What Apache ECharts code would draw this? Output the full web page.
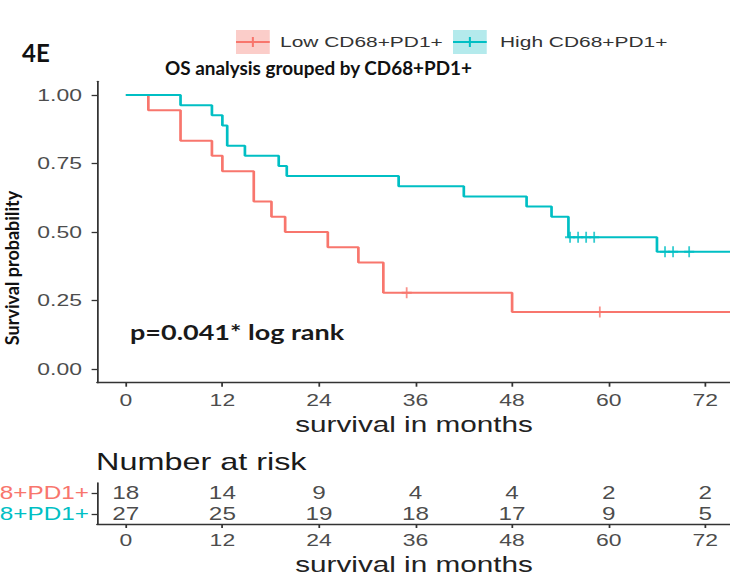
<!DOCTYPE html>
<html>
<head>
<meta charset="utf-8">
<script src="https://cdn.jsdelivr.net/npm/echarts@6/dist/echarts.min.js"></script>
<style>
  html, body { margin: 0; padding: 0; background: #fff; overflow: hidden; width: 730px; height: 576px; }
  #chart { width: 540.74px; height: 576px; transform: scaleX(1.35); transform-origin: 0 0; }
</style>
</head>
<body>
<div id="chart"></div>
<script>
// The exported figure is stretched horizontally; the whole chart is drawn
// narrower and widened by this factor.
const SX = 1.35;
const W = 730 / SX;
const H = 576;
const px = v => v / SX;   // page x -> chart x

// ---- data -------------------------------------------------------------
const groupNames = ['Low CD68+PD1+', 'High CD68+PD1+'];
const groupColors = ['#F8766D', '#00BFC4'];

// Kaplan-Meier steps: event time (months) and survival after that time
const lowTimes = [0, 2.8, 6.8, 10.7, 12.0, 15.9, 18.1, 19.8, 25.1, 28.9, 32.0, 48.0];
const lowSurv  = [1.000, 0.944, 0.833, 0.778, 0.722, 0.611, 0.556, 0.500, 0.444, 0.389, 0.278, 0.208];
const lowCensor = [34.9, 58.9];

const highTimes = [0, 6.8, 10.7, 12.0, 12.6, 14.8, 19.0, 20.0, 33.9, 42.0, 49.8, 52.9, 55.0, 66.0];
const highSurv  = [1.000, 0.963, 0.926, 0.889, 0.815, 0.778, 0.741, 0.704, 0.667, 0.630, 0.593, 0.556, 0.481, 0.428];
const highCensor = [55.2, 56.2, 57.2, 58.2, 67.0, 68.0, 70.0];

const followUpEnd = 75.2;

// Number at risk table
const riskTimes = [0, 12, 24, 36, 48, 60, 72];
const lowRisk  = [18, 14, 9, 4, 4, 2, 2];
const highRisk = [27, 25, 19, 18, 17, 9, 5];

const xTicks = [0, 12, 24, 36, 48, 60, 72];
const yTicks = [0, 0.25, 0.5, 0.75, 1];

// ---- helpers ----------------------------------------------------------
function stepData(times, surv) {
  const d = times.map((t, i) => [t, surv[i]]);
  d.push([followUpEnd, surv[surv.length - 1]]);
  return d;
}
function survivalAt(times, surv, t) {
  let s = surv[0];
  for (let i = 0; i < times.length; i++) if (times[i] <= t) s = surv[i];
  return s;
}
const plusSymbol = 'path://M5,0L5,10M0,5L10,5';

const FONT = "'Liberation Sans', Arial, sans-serif";
const axisLine = { show: true, onZero: false, lineStyle: { color: '#333', width: 1.3 } };
const axisTick = { show: true, length: 4, lineStyle: { color: '#333', width: 1.3 } };

const chart = echarts.init(document.getElementById('chart'), null, { renderer: 'svg', width: W, height: H });

const gridLeft = px(97);
const gridRight = W - px(731);

const option = {
  animation: false,
  backgroundColor: '#fff',
  grid: [
    { left: gridLeft, right: gridRight, top: 81.3, height: 301.4, outerBoundsMode: 'none', containLabel: false },
    { left: gridLeft, right: gridRight, top: 483, height: 41, outerBoundsMode: 'none', containLabel: false }
  ],
  xAxis: [
    {
      type: 'value', gridIndex: 0, min: -3.58, max: 75.2,
      axisLine, axisTick: Object.assign({ customValues: xTicks }, axisTick),
      splitLine: { show: false },
      axisLabel: { customValues: xTicks, fontSize: 17, color: '#4d4d4d', fontFamily: FONT, margin: 9 },
      name: 'survival in months', nameLocation: 'middle', nameGap: 28,
      nameTextStyle: { fontSize: 22, color: '#222', fontFamily: FONT }
    },
    {
      type: 'value', gridIndex: 1, min: -3.58, max: 75.2,
      axisLine, axisTick: Object.assign({ customValues: xTicks }, axisTick),
      splitLine: { show: false },
      axisLabel: { customValues: xTicks, fontSize: 17, color: '#4d4d4d', fontFamily: FONT, margin: 8 },
      name: 'survival in months', nameLocation: 'middle', nameGap: 29,
      nameTextStyle: { fontSize: 22, color: '#222', fontFamily: FONT }
    }
  ],
  yAxis: [
    {
      type: 'value', gridIndex: 0, min: -0.05, max: 1.05,
      axisLine, axisTick: Object.assign({ customValues: yTicks }, axisTick),
      splitLine: { show: false },
      axisLabel: {
        customValues: yTicks, fontSize: 17, color: '#4d4d4d', fontFamily: FONT, margin: px(15),
        formatter: v => v.toFixed(2)
      }
    },
    {
      type: 'category', gridIndex: 1, data: [groupNames[1], groupNames[0]],
      axisLine, axisTick: Object.assign({ alignWithLabel: true }, axisTick),
      splitLine: { show: false },
      axisLabel: {
        fontSize: 18, fontFamily: FONT, margin: px(8), interval: 0, hideOverlap: false,
        color: (v) => v === groupNames[0] ? groupColors[0] : groupColors[1]
      }
    }
  ],
  series: [
    {
      name: groupNames[0], type: 'line', step: 'end', xAxisIndex: 0, yAxisIndex: 0,
      data: stepData(lowTimes, lowSurv), symbol: 'none', silent: true,
      lineStyle: { color: groupColors[0], width: 2 }
    },
    {
      name: groupNames[1], type: 'line', step: 'end', xAxisIndex: 0, yAxisIndex: 0,
      data: stepData(highTimes, highSurv), symbol: 'none', silent: true,
      lineStyle: { color: groupColors[1], width: 2 }
    },
    {
      type: 'scatter', xAxisIndex: 0, yAxisIndex: 0, silent: true,
      data: lowCensor.map(t => [t, survivalAt(lowTimes, lowSurv, t)]),
      symbol: plusSymbol, symbolSize: [7.5, 11],
      itemStyle: { color: 'rgba(0,0,0,0)', borderColor: groupColors[0], borderWidth: 1.6 }
    },
    {
      type: 'scatter', xAxisIndex: 0, yAxisIndex: 0, silent: true,
      data: highCensor.map(t => [t, survivalAt(highTimes, highSurv, t)]),
      symbol: plusSymbol, symbolSize: [7.5, 11],
      itemStyle: { color: 'rgba(0,0,0,0)', borderColor: groupColors[1], borderWidth: 1.6 }
    },
    {
      type: 'scatter', xAxisIndex: 1, yAxisIndex: 1, silent: true,
      data: riskTimes.map((t, i) => [t, 1, lowRisk[i]])
        .concat(riskTimes.map((t, i) => [t, 0, highRisk[i]])),
      symbolSize: 0,
      label: {
        show: true, position: 'inside', formatter: p => String(p.value[2]),
        fontSize: 18, color: '#1a1a1a', fontFamily: FONT
      }
    }
  ],
  graphic: [
    // panel tag and title
    { type: 'text', x: px(22), y: 53, scaleX: 1 / SX,
      style: { text: '4E', font: "bold 24px Lato, 'Open Sans', sans-serif", fill: '#111', verticalAlign: 'middle' } },
    { type: 'text', x: px(165), y: 68, scaleX: 1.05 / SX,
      style: { text: 'OS analysis grouped by CD68+PD1+', font: "bold 18px Lato, 'Open Sans', sans-serif", fill: '#111', verticalAlign: 'middle' } },
    // y axis title
    { type: 'text', x: px(12), y: 268, rotation: Math.PI / 2, scaleY: 1 / SX,
      style: { text: 'Survival probability', font: "bold 18px Lato, 'Open Sans', sans-serif", fill: '#111', align: 'center', verticalAlign: 'middle' } },
    // log-rank annotation
    { type: 'text', x: px(130), y: 332,
      style: { text: 'p=0.041* log rank', font: "bold 20px Lato, 'Open Sans', sans-serif", fill: '#1a1a1a', verticalAlign: 'middle' } },
    // risk table heading
    { type: 'text', x: px(96), y: 462,
      style: { text: 'Number at risk', font: '24px ' + FONT, fill: '#1a1a1a', verticalAlign: 'middle' } },
    // legend
    { type: 'rect', x: px(236), y: 30, shape: { width: 25, height: 24 }, style: { fill: '#fbcdc9' } },
    { type: 'line', shape: { x1: px(236), y1: 42, x2: px(236) + 25, y2: 42 }, style: { stroke: groupColors[0], lineWidth: 2 } },
    { type: 'line', shape: { x1: px(236) + 12.5, y1: 37, x2: px(236) + 12.5, y2: 47 }, style: { stroke: groupColors[0], lineWidth: 1.5 } },
    { type: 'text', x: px(280), y: 42,
      style: { text: groupNames[0], font: '15.5px ' + FONT, fill: '#333', verticalAlign: 'middle' } },
    { type: 'rect', x: px(453), y: 30, shape: { width: 25, height: 24 }, style: { fill: '#b4eaec' } },
    { type: 'line', shape: { x1: px(453), y1: 42, x2: px(453) + 25, y2: 42 }, style: { stroke: groupColors[1], lineWidth: 2 } },
    { type: 'line', shape: { x1: px(453) + 12.5, y1: 37, x2: px(453) + 12.5, y2: 47 }, style: { stroke: groupColors[1], lineWidth: 1.5 } },
    { type: 'text', x: px(500), y: 42,
      style: { text: groupNames[1], font: '15.5px ' + FONT, fill: '#333', verticalAlign: 'middle' } }
  ]
};

chart.setOption(option);
</script>
</body>
</html>
